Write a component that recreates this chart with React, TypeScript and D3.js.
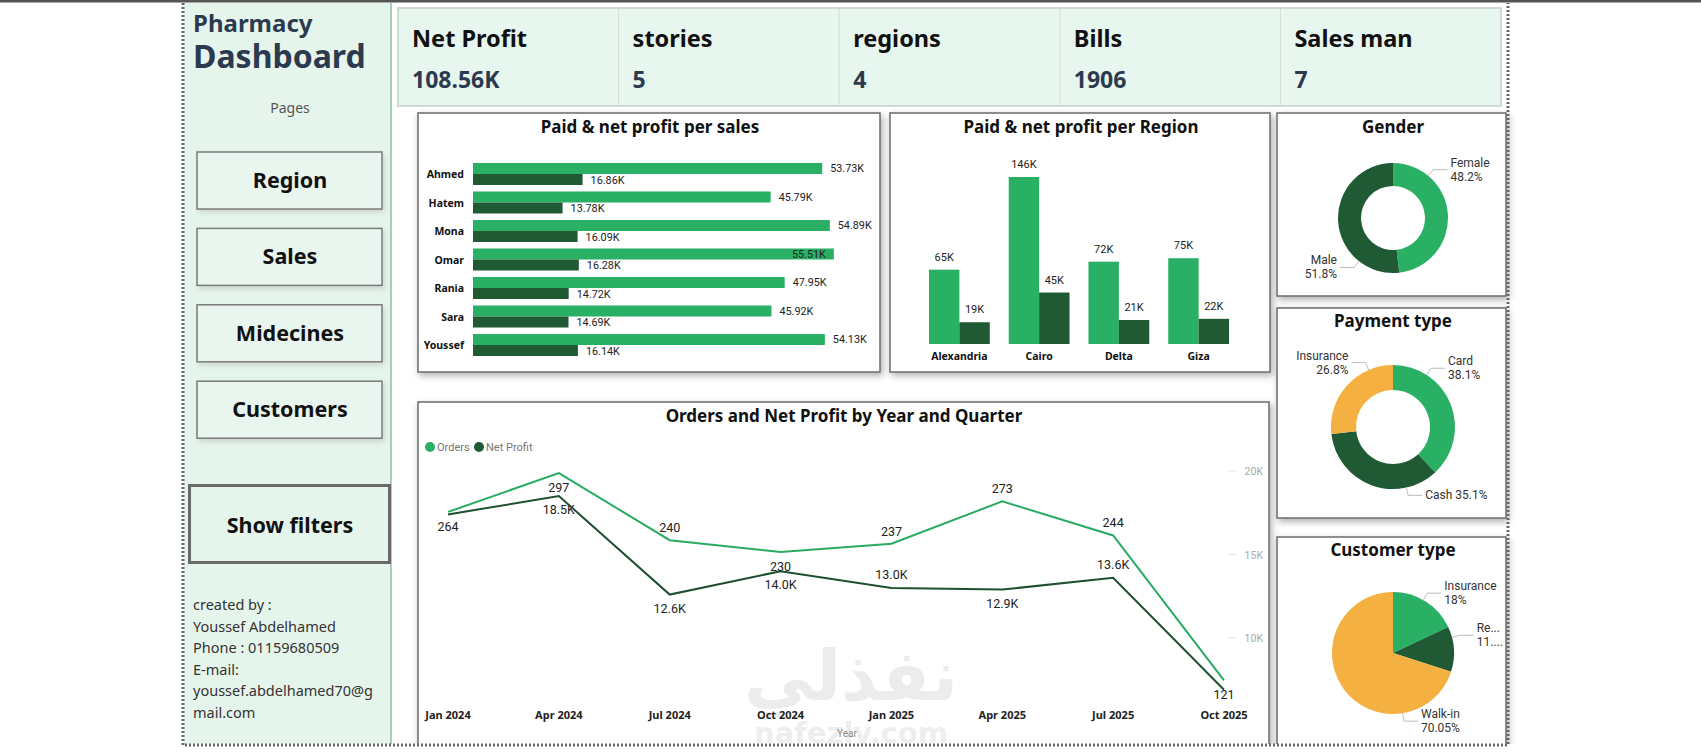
import React from 'react';
import * as d3 from 'd3';

// ---- data ----
const kpiLabels = ['Net Profit', 'stories', 'regions', 'Bills', 'Sales man'];
const kpiValues = ['108.56K', '5', '4', '1906', '7'];

const navPages = ['Region', 'Sales', 'Midecines', 'Customers'];
const creatorLines = ['created by :', 'Youssef Abdelhamed', 'Phone : 01159680509', 'E-mail:', 'youssef.abdelhamed70@g', 'mail.com'];

const salesMen = ['Ahmed', 'Hatem', 'Mona', 'Omar', 'Rania', 'Sara', 'Youssef'];
const salesPaid = [53.73, 45.79, 54.89, 55.51, 47.95, 45.92, 54.13]; // K
const salesProfit = [16.86, 13.78, 16.09, 16.28, 14.72, 14.69, 16.14]; // K

const regions = ['Alexandria', 'Cairo', 'Delta', 'Giza'];
const regionPaid = [65, 146, 72, 75]; // K
const regionProfit = [19, 45, 21, 22]; // K

const quarters = ['Jan 2024', 'Apr 2024', 'Jul 2024', 'Oct 2024', 'Jan 2025', 'Apr 2025', 'Jul 2025', 'Oct 2025'];
const quarterOrders = [264, 297, 240, 230, 237, 273, 244, 121];
const quarterProfit = [17400, 18500, 12600, 14000, 13000, 12900, 13600, 6900];
const profitTicks = [10000, 15000, 20000];

const genderNames = ['Female', 'Male'];
const genderShares = [48.2, 51.8];
const paymentNames = ['Card', 'Cash', 'Insurance'];
const paymentShares = [38.1, 35.1, 26.8];
const customerNames = ['Insurance', 'Regular', 'Walk-in'];
const customerShares = [18, 11.95, 70.05];

// ---- style ----
const GREEN = '#29b064';
const DARK = '#1f5a34';
const ORANGE = '#f4b041';
const MINT = '#e6f5ec';
const FONT = "'Noto Sans', 'Open Sans', sans-serif";
const NUM = "Roboto, 'DejaVu Sans', sans-serif";

const measureCtx = typeof document !== 'undefined' ? document.createElement('canvas').getContext('2d') : null;
function fitText(s: string, font: string, maxW: number) {
  if (!measureCtx) return s;
  measureCtx.font = font;
  if (measureCtx.measureText(s).width <= maxW) return s;
  let t = s;
  while (t.length > 1 && measureCtx.measureText(t + '...').width > maxW) t = t.slice(0, -1);
  return t + '...';
}

function Card({ x, y, w, h }: { x: number; y: number; w: number; h: number }) {
  return <rect x={x} y={y} width={w} height={h} fill="#fff" stroke="#6b6b6b" strokeWidth={1.5} filter="url(#shadow)" />;
}

function Title({ x, y, text }: { x: number; y: number; text: string }) {
  return (
    <text x={x} y={y} textAnchor="middle" fontFamily={FONT} fontWeight={700} fontSize={17} fill="#111">
      {text}
    </text>
  );
}

function Donut(props: {
  cx: number; cy: number; r: number; inner: number; names: string[]; values: number[];
  colors: string[]; leaderAt: number[]; inline: boolean[]; right: number;
}) {
  const { cx, cy, r, inner, names, values, colors, leaderAt, inline, right } = props;
  const slices = d3.pie<number>().sort(null).value(d => d)(values);
  const arc = d3.arc<d3.PieArcDatum<number>>().innerRadius(inner).outerRadius(r);
  const labelFont = `12px ${NUM}`;
  return (
    <g>
      <g transform={`translate(${cx},${cy})`}>
        {slices.map((s, i) => (
          <path key={i} d={arc(s) || ''} fill={colors[i]} />
        ))}
      </g>
      {slices.map((s, i) => {
        const a = s.startAngle + (s.endAngle - s.startAngle) * leaderAt[i];
        const side = Math.sin(a) >= 0 ? 1 : -1;
        const p0 = [cx + r * Math.sin(a), cy - r * Math.cos(a)];
        const p1 = [cx + (r + 8) * Math.sin(a), cy - (r + 8) * Math.cos(a)];
        const p2 = [p1[0] + side * 14, p1[1]];
        const tx = p2[0] + side * 3;
        const anchor = side > 0 ? 'start' : 'end';
        const maxW = side > 0 ? right - tx - 2 : tx - 1280;
        const pct = `${values[i]}%`;
        return (
          <g key={'l' + i}>
            <polyline points={[p0, p1, p2].map(p => p.join(',')).join(' ')} fill="none" stroke="#bdbdbd" strokeWidth={1} />
            {inline[i] ? (
              <text x={tx} y={p2[1] + 4} textAnchor={anchor} fontFamily={NUM} fontSize={12} fill="#333">
                {fitText(`${names[i]} ${pct}`, labelFont, maxW)}
              </text>
            ) : (
              <text textAnchor={anchor} fontFamily={NUM} fontSize={12} fill="#333">
                <tspan x={tx} y={p2[1] - 3}>{fitText(names[i], labelFont, maxW)}</tspan>
                <tspan x={tx} y={p2[1] + 11}>{fitText(pct, labelFont, maxW)}</tspan>
              </text>
            )}
          </g>
        );
      })}
    </g>
  );
}

function SalesBars() {
  const x = d3.scaleLinear().domain([0, 58]).range([473, 850]);
  const y = d3.scaleBand<string>().domain(salesMen).range([159.75, 359.25]).paddingInner(0.228).paddingOuter(0.114);
  const sub = d3.scaleBand<string>().domain(['paid', 'profit']).range([0, y.bandwidth()]);
  const series = [
    { key: 'paid', values: salesPaid, color: GREEN },
    { key: 'profit', values: salesProfit, color: DARK },
  ];
  return (
    <g>
      <Card x={418} y={113} w={462} h={259} />
      <Title x={650} y={133} text="Paid & net profit per sales" />
      {salesMen.map((name, i) => (
        <g key={name}>
          <text x={464} y={(y(name) as number) + y.bandwidth() / 2 + 4} textAnchor="end" fontFamily={FONT} fontWeight={700} fontSize={10.5} fill="#111">
            {name}
          </text>
          {series.map(s => {
            const top = (y(name) as number) + (sub(s.key) as number);
            const end = x(s.values[i]);
            const label = `${s.values[i].toFixed(2)}K`;
            // label goes inside the bar when it would run past the plot edge
            const inside = end + 6 + 34 > 872;
            return (
              <g key={s.key}>
                <rect x={x(0)} y={top} width={end - x(0)} height={sub.bandwidth()} fill={s.color} />
                <text x={inside ? end - 8 : end + 8} y={top + sub.bandwidth() / 2 + 4} textAnchor={inside ? 'end' : 'start'} fontFamily={NUM} fontSize={10.8} fill="#222">
                  {label}
                </text>
              </g>
            );
          })}
        </g>
      ))}
    </g>
  );
}

function RegionBars() {
  const x = d3.scaleBand<string>().domain(regions).range([919, 1239]).paddingInner(0.2375).paddingOuter(0.125);
  const sub = d3.scaleBand<string>().domain(['paid', 'profit']).range([0, x.bandwidth()]);
  const y = d3.scaleLinear().domain([0, 160]).range([344, 161]);
  const series = [
    { key: 'paid', values: regionPaid, color: GREEN },
    { key: 'profit', values: regionProfit, color: DARK },
  ];
  return (
    <g>
      <Card x={890} y={113} w={380} h={259} />
      <Title x={1081} y={133} text="Paid & net profit per Region" />
      {regions.map((r, i) => (
        <g key={r}>
          {series.map(s => {
            const left = (x(r) as number) + (sub(s.key) as number);
            const top = y(s.values[i]);
            return (
              <g key={s.key}>
                <rect x={left} y={top} width={sub.bandwidth()} height={y(0) - top} fill={s.color} />
                <text x={left + sub.bandwidth() / 2} y={top - 9} textAnchor="middle" fontFamily={NUM} fontSize={11} fill="#222">
                  {`${s.values[i]}K`}
                </text>
              </g>
            );
          })}
          <text x={(x(r) as number) + x.bandwidth() / 2} y={360} textAnchor="middle" fontFamily={FONT} fontWeight={700} fontSize={10.5} fill="#111">
            {r}
          </text>
        </g>
      ))}
    </g>
  );
}

// label side for each point (layout only)
const orderLabelSide = ['below', 'below', 'above', 'below', 'above', 'above', 'above', 'below'];
const profitLabelSide = [null, 'below', 'below', 'below', 'above', 'below', 'above', null];

function QuarterLines() {
  const x = d3.scalePoint<string>().domain(quarters).range([448, 1224]);
  const yOrders = d3.scaleLinear().domain([100, 320]).range([705, 446]);
  const yProfit = d3.scaleLinear().domain([5000, 22000]).range([721.5, 437.6]);
  const lineO = d3.line<number>().x((_, i) => x(quarters[i]) as number).y(d => yOrders(d));
  const lineP = d3.line<number>().x((_, i) => x(quarters[i]) as number).y(d => yProfit(d));
  return (
    <g>
      <Card x={418} y={402} w={851} h={360} />
      <Title x={844} y={422} text="Orders and Net Profit by Year and Quarter" />
      <circle cx={430} cy={447} r={5} fill={GREEN} />
      <text x={437} y={451} fontFamily={NUM} fontSize={11} fill="#777">Orders</text>
      <circle cx={479} cy={447} r={5} fill={DARK} />
      <text x={486} y={451} fontFamily={NUM} fontSize={11} fill="#777">Net Profit</text>
      {profitTicks.map(t => (
        <g key={t}>
          <line x1={1228} x2={1237} y1={yProfit(t)} y2={yProfit(t)} stroke="#e4e4e4" />
          <text x={1263} y={yProfit(t) + 4} textAnchor="end" fontFamily={NUM} fontSize={10.5} fill="#aaa">
            {`${t / 1000}K`}
          </text>
        </g>
      ))}
      {/* watermark */}
      <text x={851} y={700} textAnchor="middle" fontFamily="'DejaVu Sans', sans-serif" fontWeight={700} fontSize={70} fill="#ececec">
        نفذلي
      </text>
      <text x={851} y={743} textAnchor="middle" fontFamily="'DejaVu Sans', sans-serif" fontWeight={700} fontSize={29} fill="#eeeeee">
        nafezly.com
      </text>
      <path d={lineO(quarterOrders) || ''} fill="none" stroke="#2aab62" strokeWidth={2} />
      <path d={lineP(quarterProfit) || ''} fill="none" stroke="#1e4f30" strokeWidth={2} />
      {quarters.map((q, i) => {
        const cx = x(q) as number;
        const oy = yOrders(quarterOrders[i]);
        const py = yProfit(quarterProfit[i]);
        const ps = profitLabelSide[i];
        return (
          <g key={q}>
            <text x={cx} y={orderLabelSide[i] === 'below' ? oy + 19 : oy - 8} textAnchor="middle" fontFamily={NUM} fontSize={12.5} fill="#222">
              {quarterOrders[i]}
            </text>
            {ps && (
              <text x={cx} y={ps === 'below' ? py + 18 : py - 9} textAnchor="middle" fontFamily={NUM} fontSize={12.5} fill="#222">
                {`${(quarterProfit[i] / 1000).toFixed(1)}K`}
              </text>
            )}
            <text x={cx} y={719} textAnchor="middle" fontFamily={FONT} fontWeight={700} fontSize={11} fill="#222">
              {q}
            </text>
          </g>
        );
      })}
      <text x={837} y={737} fontFamily={NUM} fontSize={10} fill="#888">Year</text>
    </g>
  );
}

function Sidebar() {
  return (
    <g>
      <rect x={184} y={3} width={207} height={742} fill={MINT} />
      <line x1={391} x2={391} y1={3} y2={745} stroke="#5f9e80" strokeWidth={1} />
      <text x={193} y={32} fontFamily={FONT} fontWeight={700} fontSize={24} fill="#2c3a4f">Pharmacy</text>
      <text x={193} y={68} fontFamily={FONT} fontWeight={700} fontSize={32} fill="#2c3a4f">Dashboard</text>
      <text x={290} y={113} textAnchor="middle" fontFamily={FONT} fontSize={14} fill="#555">Pages</text>
      {navPages.map((p, i) => {
        const top = 152 + i * 76.4;
        return (
          <g key={p}>
            <rect x={197} y={top} width={185} height={57} fill="#e9f6ef" stroke="#7a7a7a" strokeWidth={1.5} filter="url(#soft)" />
            <text x={290} y={top + 36} textAnchor="middle" fontFamily={FONT} fontWeight={700} fontSize={21.5} fill="#111">
              {p}
            </text>
          </g>
        );
      })}
      <rect x={189.5} y={485.5} width={200} height={77} fill={MINT} stroke="#6a6a6a" strokeWidth={3} />
      <text x={290} y={533} textAnchor="middle" fontFamily={FONT} fontWeight={700} fontSize={21.5} fill="#111">Show filters</text>
      {creatorLines.map((l, i) => (
        <text key={i} x={193} y={610 + i * 21.6} fontFamily={FONT} fontSize={14.5} fill="#333">{l}</text>
      ))}
    </g>
  );
}

function Kpis() {
  const x = d3.scaleBand<string>().domain(kpiLabels).range([398, 1501]);
  return (
    <g>
      <rect x={398} y={8} width={1103} height={98} fill="#e7f6ee" stroke="#c5cfc9" strokeWidth={1.5} />
      {kpiLabels.map((k, i) => (
        <g key={k}>
          {i > 0 && <line x1={x(k)} x2={x(k)} y1={9} y2={105} stroke="#d2ddd6" />}
          <text x={(x(k) as number) + 14} y={47} fontFamily={FONT} fontWeight={700} fontSize={23.5} fill="#111">{k}</text>
          <text x={(x(k) as number) + 14} y={88} fontFamily={FONT} fontWeight={700} fontSize={23} fill="#2c3a4f">{kpiValues[i]}</text>
        </g>
      ))}
    </g>
  );
}

export default function App() {
  return (
    <svg width={1701} height={753} style={{ position: 'absolute', left: 0, top: 0, background: '#fff' }}>
      <defs>
        <filter id="shadow" x="-10%" y="-10%" width="125%" height="125%">
          <feDropShadow dx={2} dy={3} stdDeviation={3.5} floodColor="#000" floodOpacity={0.32} />
        </filter>
        <filter id="soft" x="-10%" y="-10%" width="125%" height="130%">
          <feDropShadow dx={2} dy={3} stdDeviation={2.5} floodColor="#000" floodOpacity={0.12} />
        </filter>
        <clipPath id="page">
          <rect x={0} y={0} width={1701} height={744} />
        </clipPath>
      </defs>
      <g clipPath="url(#page)">
        <Sidebar />
        <Kpis />
        <SalesBars />
        <RegionBars />
        <QuarterLines />
        <Card x={1277} y={113} w={229} h={183} />
        <Title x={1393} y={133} text="Gender" />
        <Donut cx={1393} cy={218} r={55} inner={32} names={genderNames} values={genderShares}
          colors={[GREEN, DARK]} leaderAt={[0.23, 0.24]} inline={[false, false]} right={1506} />
        <Card x={1277} y={308} w={229} h={210} />
        <Title x={1393} y={327} text="Payment type" />
        <Donut cx={1393} cy={427} r={62} inner={37} names={paymentNames} values={paymentShares}
          colors={[GREEN, DARK, ORANGE]} leaderAt={[0.24, 0.24, 0.76]} inline={[false, true, false]} right={1506} />
        <Card x={1277} y={537} w={229} h={220} />
        <Title x={1393} y={556} text="Customer type" />
        <Donut cx={1393} cy={653} r={61} inner={0} names={customerNames} values={customerShares}
          colors={[GREEN, DARK, ORANGE]} leaderAt={[0.46, 0.24, 0.25]} inline={[false, false, false]} right={1506} />
      </g>
      <rect x={0} y={0} width={1701} height={2.5} fill="#555" />
      <path d="M183,3 V745 H1508 V3" fill="none" stroke="#666" strokeWidth={3} strokeDasharray="2 2" />
    </svg>
  );
}
